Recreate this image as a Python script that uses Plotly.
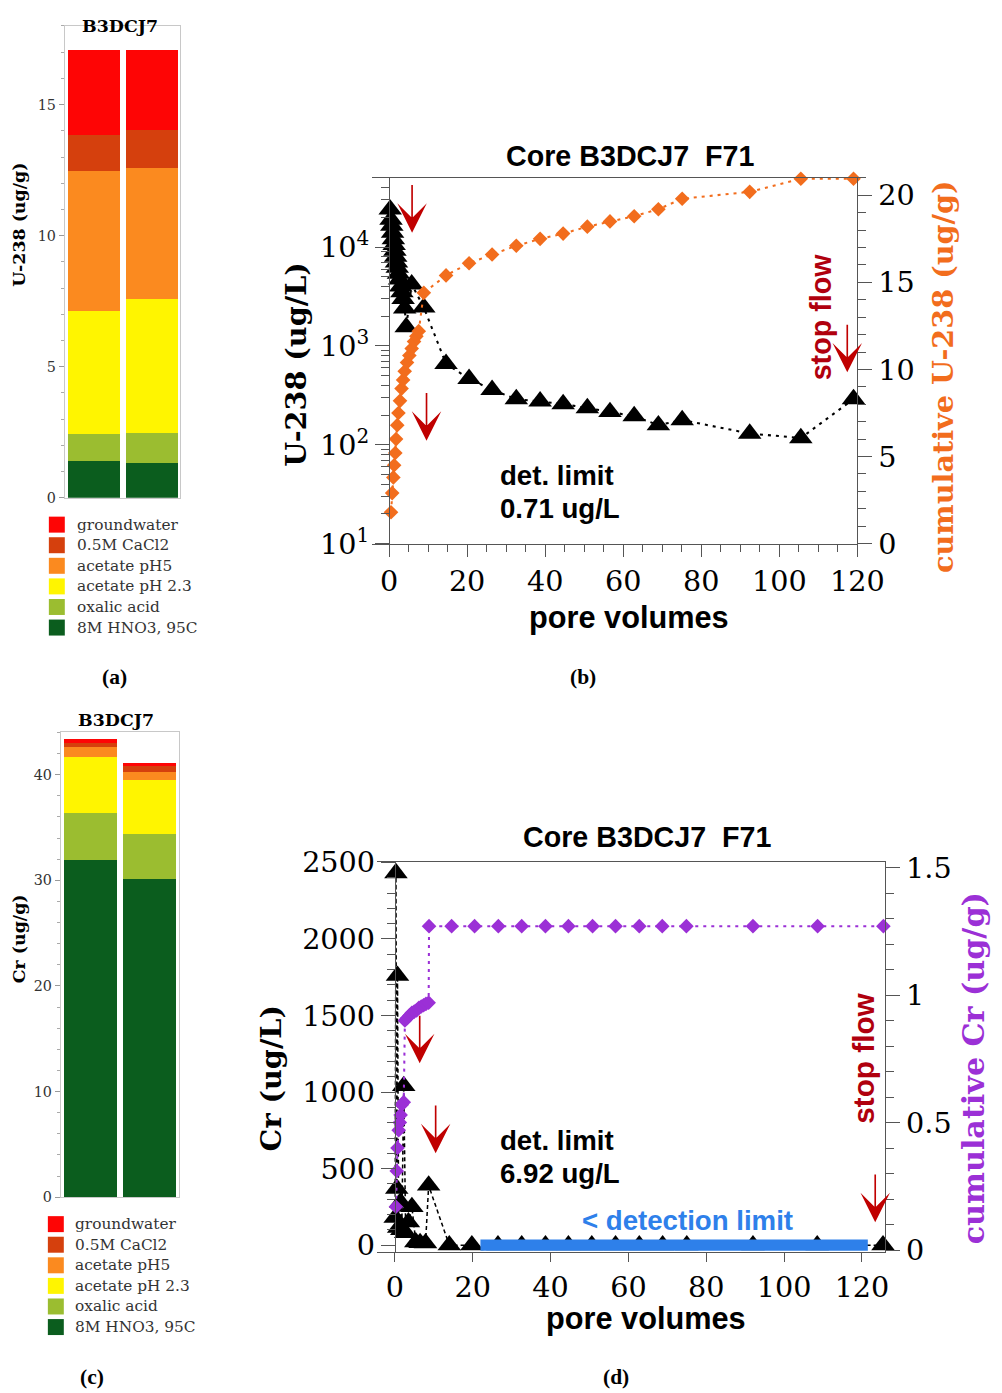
import math
import plotly.graph_objects as go

# Layout is specified on a 1002 x 1393 design grid; the figure itself is drawn
# slightly larger, every pixel-sized quantity is multiplied by S and the
# vertical grid is lifted by TOP so that it lines up with the visible page.
GRID_W, GRID_H = 1002, 1393
S = 1026 / 1002
TOP = 16
W, H = 1026, round(GRID_H * S)


def fx(p):
    return p / GRID_W


def fy(p):
    return 1 - (p - TOP) / GRID_H


def z(v):
    return v * S


SERIF = "DejaVu Serif"
SANS = "Liberation Sans"

# ---------------------------------------------------------------- data
# Sequential extraction steps, listed from the bottom of each stack upward
steps = ["8M HNO3, 95C", "oxalic acid", "acetate pH 2.3", "acetate pH5", "0.5M CaCl2", "groundwater"]
step_colors = ["#0b5d1e", "#9bbd30", "#fff500", "#fb8a1f", "#d5400d", "#fe0505"]
replicates = [1, 2]

# U-238 extracted per step (ug/g), two replicate columns
u238_rep1 = [1.41, 1.02, 4.71, 5.33, 1.37, 3.23]
u238_rep2 = [1.33, 1.14, 5.10, 5.02, 1.44, 3.04]

# Cr extracted per step (ug/g), two replicate columns
cr_rep1 = [31.9, 4.5, 5.3, 0.9, 0.4, 0.4]
cr_rep2 = [30.1, 4.3, 5.1, 0.8, 0.5, 0.3]

# Column effluent, U-238 concentration (ug/L) vs pore volumes
u_pv = [0.3, 0.5, 0.7, 0.9, 1.1, 1.3, 1.5, 1.7, 1.9, 2.1, 2.4, 2.7, 3.0, 3.3, 3.6, 4.0, 4.4,
        5.8, 8.9, 14.6, 20.5, 26.4, 32.6, 38.7, 44.6, 50.8, 56.6, 62.8, 69.0, 75.1, 92.4, 105.5, 119.0]
u_conc = [24000, 19000, 16500, 14000, 12000, 10500, 9200, 8000, 7000, 6200, 5400, 4700, 4000, 3500, 3000, 2400, 1550,
          4200, 2450, 660, 465, 360, 290, 275, 258, 235, 215, 195, 158, 178, 130, 117, 290]

# Cumulative U-238 released (ug/g)
ucum_pv = [0.5, 0.8, 1.1, 1.3, 1.6, 1.8, 2.1, 2.4, 2.8, 3.2, 3.6, 4.0, 4.6, 5.2, 5.8, 6.4, 7.0, 7.6,
           8.9, 14.6, 20.5, 26.4, 32.6, 38.7, 44.6, 50.8, 56.6, 62.8, 69.0, 75.1, 92.4, 105.5, 119.0]
u_cum = [1.8, 2.9, 3.8, 4.5, 5.2, 6.0, 6.8, 7.5, 8.2, 8.9, 9.4, 9.9, 10.4, 10.8, 11.2, 11.6, 11.9, 12.2,
         14.4, 15.4, 16.1, 16.6, 17.1, 17.5, 17.8, 18.2, 18.5, 18.8, 19.2, 19.8, 20.2, 20.95, 20.95]

# Column effluent, Cr concentration (ug/L) vs pore volumes
cr_pv = [0.1, 0.3, 0.5, 0.7, 1.0, 1.5, 1.8, 2.3, 2.8, 3.5, 4.4, 5.4, 6.5, 7.9, 8.7, 14.0, 19.8,
         26.5, 32.6, 38.7, 44.6, 50.6, 56.7, 62.8, 68.8, 75.0, 92.0, 108.5, 125.4]
cr_conc = [180, 2430, 370, 1760, 115, 280, 100, 1040, 80, 150, 250, 20, 15, 13, 390, 0, 0,
           0, 0, 0, 0, 0, 0, 0, 0, 0, 0, 0, 0]

# Cumulative Cr released (ug/g)
crcum_pv = [0.3, 0.5, 0.7, 1.0, 1.3, 1.5, 1.8, 2.3, 2.6, 3.2, 3.8, 4.4, 5.0, 5.6, 6.2, 6.8, 7.4, 8.0, 8.7,
            8.8, 14.6, 20.5, 26.6, 32.6, 38.7, 44.6, 50.8, 56.7, 62.8, 68.7, 74.9, 92.0, 108.6, 125.5]
cr_cum = [0.17, 0.31, 0.40, 0.47, 0.50, 0.53, 0.57, 0.58, 0.90, 0.91, 0.92, 0.93, 0.935, 0.94, 0.95, 0.955, 0.96, 0.965, 0.97,
          1.27, 1.27, 1.27, 1.27, 1.27, 1.27, 1.27, 1.27, 1.27, 1.27, 1.27, 1.27, 1.27, 1.27, 1.27]

# Range of pore volumes where Cr stayed below detection
below_detect_pv = [22.0, 121.5]
below_detect_level = [0, 0]

# Stop-flow / sampling markers (pore volumes)
u_arrow_pv = [5.9, 9.6, 117.4]
u_arrow_conc = [14000, 110, 540]
cr_arrow_pv = [6.4, 10.5, 123.4]
cr_arrow_conc = [1188, 601, 150]

ORANGE = "#f26d1d"
PURPLE = "#9b30d6"
RED = "#c00000"
BLUE = "#2e80ea"

fig = go.Figure()

# ---------------------------------------------------------------- stacked bars
for i, s in enumerate(steps):
    fig.add_trace(go.Bar(x=replicates, y=[u238_rep1[i], u238_rep2[i]], name=s,
                         marker=dict(color=step_colors[i], line=dict(width=0)), width=0.9,
                         xaxis="x", yaxis="y", showlegend=False))
for i, s in enumerate(steps):
    fig.add_trace(go.Bar(x=replicates, y=[cr_rep1[i], cr_rep2[i]], name=s,
                         marker=dict(color=step_colors[i], line=dict(width=0)), width=0.9,
                         xaxis="x2", yaxis="y2", showlegend=False))

# ---------------------------------------------------------------- U-238 column
fig.add_trace(go.Scatter(x=ucum_pv, y=u_cum, mode="lines+markers", xaxis="x3", yaxis="y4",
                         line=dict(color=ORANGE, width=z(2), dash="3px,5px"),
                         marker=dict(symbol="diamond", size=z(11), color=ORANGE),
                         cliponaxis=False, showlegend=False))
fig.add_trace(go.Scatter(x=u_pv, y=u_conc, mode="lines+markers", xaxis="x3", yaxis="y3",
                         line=dict(color="black", width=z(2), dash="3px,5px"),
                         marker=dict(symbol="triangle-up", size=z(20), color="black"),
                         cliponaxis=False, showlegend=False))

# ---------------------------------------------------------------- Cr column
fig.add_trace(go.Scatter(x=crcum_pv, y=cr_cum, mode="lines+markers", xaxis="x4", yaxis="y6",
                         line=dict(color=PURPLE, width=z(2), dash="3px,5px"),
                         marker=dict(symbol="diamond", size=z(11), color=PURPLE),
                         cliponaxis=False, showlegend=False))
fig.add_trace(go.Scatter(x=cr_pv, y=cr_conc, mode="lines+markers", xaxis="x4", yaxis="y5",
                         line=dict(color="black", width=z(1.5), dash="4px,3px"),
                         marker=dict(symbol="triangle-up", size=z(20), color="black"),
                         cliponaxis=False, showlegend=False))
fig.add_trace(go.Scatter(x=below_detect_pv, y=below_detect_level, mode="lines", xaxis="x4", yaxis="y5",
                         line=dict(color=BLUE, width=z(11)), cliponaxis=False, showlegend=False))

# ---------------------------------------------------------------- axes
bar_frame = dict(showline=True, mirror=True, linecolor="#c8c8c8", linewidth=1,
                 zeroline=False, showgrid=False)
bar_ytick = dict(ticks="outside", ticklen=round(z(5)), tickcolor="#9a9a9a",
                 tickfont=dict(family=SERIF, size=z(14), color="#333"))
tickfont_big = dict(family=SERIF, size=z(28), color="black")
AX = "#555"

log_minor = [m * 10 ** e for e in range(1, 5) for m in range(2, 10) if m * 10 ** e <= 50000]

fig.update_layout(
    width=W, height=H, margin=dict(l=0, r=0, t=0, b=0),
    paper_bgcolor="white", plot_bgcolor="white", showlegend=False,
    barmode="stack", bargap=0.1,
    xaxis=dict(domain=[fx(65), fx(181)], range=[0.5, 2.5], anchor="y",
               showticklabels=False, ticks="", **bar_frame),
    yaxis=dict(domain=[fy(497), fy(25)], range=[0, 18], dtick=5, anchor="x",
               minor=dict(dtick=1, ticks="outside", ticklen=3, tickcolor="#aaa"),
               **bar_ytick, **bar_frame),
    xaxis2=dict(domain=[fx(61), fx(180)], range=[0.5, 2.5], anchor="y2",
                showticklabels=False, ticks="", **bar_frame),
    yaxis2=dict(domain=[fy(1197), fy(732)], range=[0, 44], dtick=10, anchor="x2",
                minor=dict(dtick=2, ticks="outside", ticklen=3, tickcolor="#aaa"),
                **bar_ytick, **bar_frame),
    xaxis3=dict(domain=[fx(373), fx(860)], range=[-4.4, 120], anchor="y3",
                showline=True, mirror=True, linecolor=AX, linewidth=1,
                tick0=0, dtick=20, ticks="outside", ticklen=round(z(12)), tickcolor=AX,
                tickfont=tickfont_big, showgrid=False, zeroline=False,
                minor=dict(tick0=0, dtick=5, ticks="outside", ticklen=round(z(7)), tickcolor=AX)),
    yaxis3=dict(domain=[fy(543), fy(177)], type="log", range=[1, 4.7],
                anchor="free", position=fx(390.2), showline=True, linecolor=AX, linewidth=1,
                tickvals=[10, 100, 1000, 10000],
                ticktext=["10<sup>1</sup>", "10<sup>2</sup>", "10<sup>3</sup>", "10<sup>4</sup>"],
                ticks="outside", ticklen=round(z(14)), tickcolor=AX, tickfont=tickfont_big,
                showgrid=False, zeroline=False,
                minor=dict(tickvals=log_minor, ticks="outside", ticklen=round(z(8)), tickcolor=AX)),
    yaxis4=dict(overlaying="y3", side="right", anchor="x3", range=[0, 21], dtick=5,
                showline=True, linecolor=AX, linewidth=1,
                ticks="outside", ticklen=round(z(14)), tickcolor=AX, tickfont=tickfont_big,
                showgrid=False, zeroline=False,
                minor=dict(dtick=1, ticks="outside", ticklen=round(z(8)), tickcolor=AX)),
    xaxis4=dict(domain=[fx(378), fx(888)], range=[-4.6, 126], anchor="y5",
                showline=True, mirror=True, linecolor=AX, linewidth=1,
                tick0=0, dtick=20, ticks="outside", ticklen=round(z(9)), tickcolor=AX,
                tickfont=tickfont_big, showgrid=False, zeroline=False),
    yaxis5=dict(domain=[fy(1252), fy(862)], range=[-45, 2500], dtick=500,
                anchor="free", position=fx(396), showline=True, linecolor=AX, linewidth=1,
                ticks="outside", ticklen=round(z(14)), tickcolor=AX, tickfont=tickfont_big,
                showgrid=False, zeroline=False,
                minor=dict(dtick=100, ticks="outside", ticklen=round(z(8)), tickcolor=AX)),
    yaxis6=dict(overlaying="y5", side="right", anchor="x4", range=[-0.008, 1.52], dtick=0.5,
                showline=True, linecolor=AX, linewidth=1,
                ticks="outside", ticklen=round(z(14)), tickcolor=AX, tickfont=tickfont_big,
                showgrid=False, zeroline=False,
                minor=dict(dtick=0.1, ticks="outside", ticklen=round(z(8)), tickcolor=AX)),
)

# ---------------------------------------------------------------- text
ann = []


def text(x, y, s, size, family=SANS, color="black", bold=True, angle=0, xanchor="center"):
    ann.append(dict(x=fx(x), y=fy(y), xref="paper", yref="paper", text=(f"<b>{s}</b>" if bold else s),
                    showarrow=False, textangle=angle, xanchor=xanchor, yanchor="middle",
                    font=dict(family=family, size=z(size), color=color)))


# bar panels
text(120, 25, "B3DCJ7", 17, SERIF)
text(116, 720, "B3DCJ7", 17, SERIF)
text(19, 224, "U-238 (ug/g)", 17, SERIF, angle=-90)
text(19, 938, "Cr (ug/g)", 17, SERIF, angle=-90)

# legends for the extraction steps
shapes = []
for k, idx in enumerate(reversed(range(len(steps)))):
    for (sx, cy0, tx) in [(49, 524, 75), (48, 1224, 73)]:
        cy = cy0 + 20.6 * k
        shapes.append(dict(type="rect", xref="paper", yref="paper",
                           x0=fx(sx), x1=fx(sx + 16), y0=fy(cy + 8), y1=fy(cy - 8),
                           fillcolor=step_colors[idx], line=dict(width=0)))
        text(tx, cy, steps[idx], 15, SERIF, color="#333", bold=False, xanchor="left")

# U-238 column panel
text(632, 155, "Core B3DCJ7\u00a0\u00a0F71", 28)
text(297, 364, "U-238 (ug/L)", 28, SERIF, angle=-90)
text(946, 376, "cumulative U-238 (ug/g)", 28, SERIF, color=ORANGE, angle=-90)
text(631, 617, "pore volumes", 30)
text(499, 475, "det. limit", 27, xanchor="left")
text(499, 508, "0.71 ug/L", 27, xanchor="left")
text(823, 317, "stop flow", 28, color="#b0000e", angle=-90)

# Cr column panel
text(649, 837, "Core B3DCJ7\u00a0\u00a0F71", 28)
text(272, 1078, "Cr (ug/L)", 28, SERIF, angle=-90)
text(976, 1068, "cumulative Cr (ug/g)", 29.5, SERIF, color=PURPLE, angle=-90)
text(648, 1318, "pore volumes", 30)
text(499, 1140, "det. limit", 27, xanchor="left")
text(499, 1173, "6.92 ug/L", 27, xanchor="left")
text(866, 1058, "stop flow", 29, color="#b0000e", angle=-90)
text(690, 1220, "&lt; detection limit", 27, color=BLUE)

# panel letters
text(115, 676, "(a)", 21, "Liberation Serif")
text(585, 676, "(b)", 21, "Liberation Serif")
text(92, 1377, "(c)", 21, "Liberation Serif")
text(618, 1377, "(d)", 21, "Liberation Serif")

# red arrows marking flow interruptions
arrow_style = dict(text="", showarrow=True, ax=0, ay=-z(48), arrowhead=3, arrowsize=3.0,
                   arrowwidth=z(1.6), arrowcolor=RED, standoff=0)
for p, c in zip(u_arrow_pv, u_arrow_conc):
    ann.append(dict(x=p, y=math.log10(c), xref="x3", yref="y3", **arrow_style))
for p, c in zip(cr_arrow_pv, cr_arrow_conc):
    ann.append(dict(x=p, y=c, xref="x4", yref="y5", **arrow_style))

fig.update_layout(annotations=ann, shapes=shapes)

fig.write_html("out.html")
